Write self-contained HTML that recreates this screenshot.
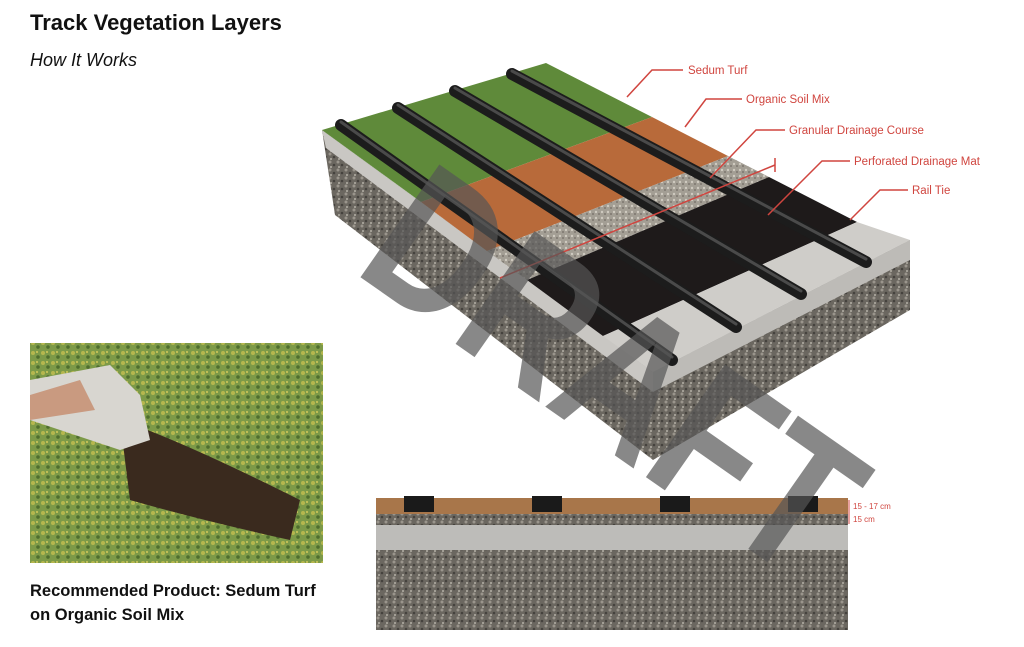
<!DOCTYPE html>
<html><head><meta charset="utf-8"><style>
body{margin:0;width:1024px;height:647px;background:#fff;overflow:hidden;font-family:"Liberation Sans",sans-serif;position:relative}
.t{position:absolute;left:30px;color:#111}
</style></head><body>
<div class="t" style="top:10px;font-size:22px;font-weight:bold">Track Vegetation Layers</div>
<div class="t" style="top:50px;font-size:18px;font-style:italic">How It Works</div>
<div class="t" style="top:579px;font-size:16.5px;font-weight:bold;line-height:24px">Recommended Product: Sedum Turf<br>on Organic Soil Mix</div>
<svg width="1024" height="647" style="position:absolute;left:0;top:0">
<defs>
<pattern id="gr" width="8" height="8" patternUnits="userSpaceOnUse"><rect width="8" height="8" fill="#6b6760"/><circle cx="2" cy="2" r="1.5" fill="#9a958c"/><circle cx="6" cy="5" r="1.3" fill="#45423e"/><circle cx="3" cy="7" r="1" fill="#b4afa6"/></pattern>
<pattern id="gl" width="6" height="6" patternUnits="userSpaceOnUse"><rect width="6" height="6" fill="#a39e94"/><circle cx="2" cy="2" r="1.2" fill="#cfcac0"/><circle cx="5" cy="4" r="1" fill="#7c776f"/></pattern>
<pattern id="sd" width="10" height="10" patternUnits="userSpaceOnUse"><rect width="10" height="10" fill="#7d9a48"/><circle cx="3" cy="3" r="2" fill="#b6b74e"/><circle cx="8" cy="7" r="1.8" fill="#4f6e2e"/><circle cx="7" cy="2" r="1" fill="#d3c85a"/></pattern>
</defs>
<!-- photo -->
<rect x="30" y="343" width="293" height="220" fill="url(#sd)"/>
<path d="M120 420 Q180 440 300 500 L290 540 Q200 520 130 500 Z" fill="#3a2a1e"/>
<path d="M30 380 L110 365 L140 395 L150 440 L120 450 L30 420Z" fill="#d8d6d0"/>
<path d="M30 395 L80 380 L95 410 L30 420Z" fill="#c99a80"/>
<!-- block faces -->
<polygon points="322,130 653,372 653,460 335,215" fill="url(#gr)"/>
<polygon points="653,372 910,240 910,310 653,460" fill="url(#gr)"/>
<polygon points="322,130 653,372 653,392 326,148" fill="#c9c7c3"/>
<polygon points="653,372 910,240 910,260 653,392" fill="#bdbbb7"/>
<!-- top bands -->
<polygon points="322,130 546,63 652,117 421,202" fill="#5f8a3a"/>
<polygon points="421,202 652,117 728,156 487,251" fill="#b86a3a"/>
<polygon points="487,251 728,156 769,177 527,280" fill="url(#gl)"/>
<polygon points="527,280 769,177 857,222 603,336" fill="#1e1a1a"/>
<polygon points="603,336 857,222 910,240 653,372" fill="#cfcdc9"/>
<!-- rails -->
<g stroke-linecap="round">
<line x1="341" y1="125" x2="672" y2="360" stroke="#1c1c1c" stroke-width="12"/>
<line x1="398" y1="108" x2="736" y2="327" stroke="#1c1c1c" stroke-width="12"/>
<line x1="455" y1="91" x2="801" y2="294" stroke="#1c1c1c" stroke-width="12"/>
<line x1="512" y1="74" x2="866" y2="262" stroke="#1c1c1c" stroke-width="12"/>
<g stroke="#4a4a4a" stroke-width="3">
<line x1="341" y1="122" x2="672" y2="357"/><line x1="398" y1="105" x2="736" y2="324"/><line x1="455" y1="88" x2="801" y2="291"/><line x1="512" y1="71" x2="866" y2="259"/></g>
</g>
<!-- labels -->
<g stroke="#d0453f" stroke-width="1.5" fill="none">
<polyline points="683,70 652,70 627,97"/>
<polyline points="742,99 706,99 685,127"/>
<polyline points="785,130 756,130 710,178"/>
<polyline points="850,161 822,161 768,215"/>
<polyline points="908,190 880,190 850,220"/>
<line x1="500" y1="278" x2="775" y2="165"/><line x1="775" y1="158" x2="775" y2="172"/>
</g>
<g fill="#d0453f" font-size="11.5" font-family="Liberation Sans,sans-serif">
<text x="688" y="74">Sedum Turf</text>
<text x="746" y="103">Organic Soil Mix</text>
<text x="789" y="134">Granular Drainage Course</text>
<text x="854" y="165">Perforated Drainage Mat</text>
<text x="912" y="194">Rail Tie</text>
</g>
<!-- cross-section -->
<rect x="376" y="498" width="472" height="16" fill="#a8764a"/>
<rect x="376" y="514" width="472" height="11" fill="url(#gr)"/>
<rect x="376" y="525" width="472" height="25" fill="#bdbcb9"/>
<rect x="376" y="550" width="472" height="80" fill="url(#gr)"/>
<g fill="#1a1a1a"><rect x="404" y="496" width="30" height="16"/><rect x="532" y="496" width="30" height="16"/><rect x="660" y="496" width="30" height="16"/><rect x="788" y="496" width="30" height="16"/></g>
<g stroke="#d0453f" stroke-width="1"><line x1="849" y1="500" x2="849" y2="524"/></g>
<g fill="#d0453f" font-size="8"><text x="853" y="509">15 - 17 cm</text><text x="853" y="522">15 cm</text></g>
<!-- DRAFT -->
<g transform="translate(5,10)">
<text x="610" y="430" font-size="200" font-weight="bold" fill="#555" fill-opacity=".7" text-anchor="middle" textLength="545" lengthAdjust="spacingAndGlyphs" transform="rotate(35 610 360)" font-family="Liberation Sans,sans-serif">DRAFT</text>
</g>
</svg>
</body></html>
